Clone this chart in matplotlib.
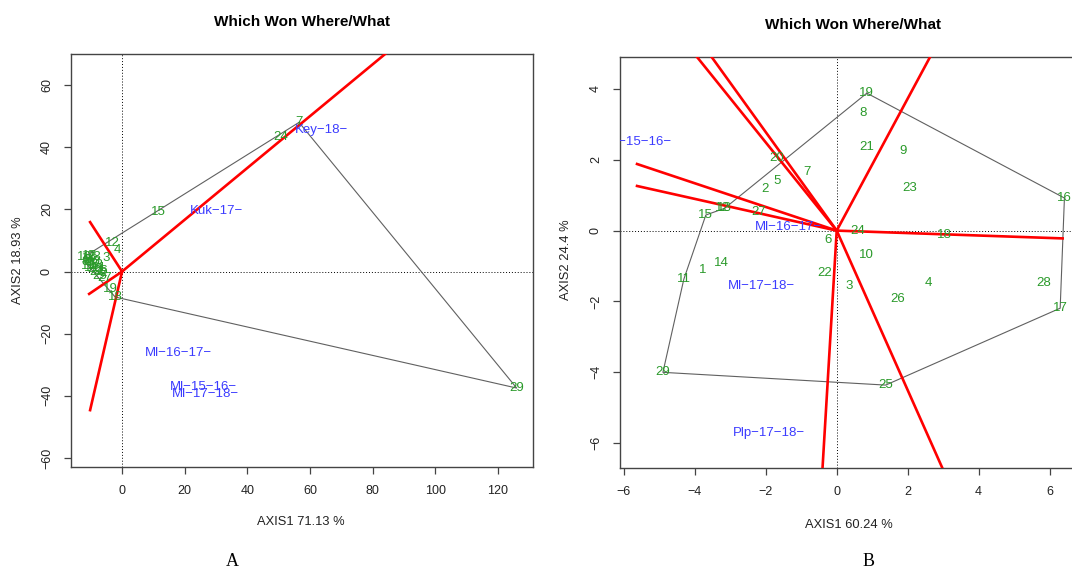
import matplotlib.pyplot as plt

plt.rcParams['font.family'] = ['Liberation Sans', 'DejaVu Sans']

# ---- panel A data ----
a_gen = ['1', '2', '3', '4', '5', '6', '7', '8', '9', '10', '11', '12', '13', '14', '15',
         '16', '17', '18', '19', '20', '21', '22', '23', '24', '25', '26', '27', '28', '29']
a_gx = [-11.5, -6.0, -5.1, -1.6, -10.8, -9.5, 56.5, -11.8, -10.2, -9.0, -11.0, -3.2, -8.3, -9.8, 11.5,
        -12.0, -10.5, -2.2, -3.8, -8.8, -7.6, -8.0, -9.2, 50.7, -7.0, -6.8, -5.4, -10.0, 126.0]
a_gy = [4.5, -0.5, 4.3, 6.9, 3.8, 4.2, 48.0, 3.0, 2.6, 3.2, 1.8, 9.2, 2.0, 1.2, 19.1,
        4.8, 5.0, -8.2, -5.6, 0.8, 1.0, -0.2, 4.8, 43.3, -1.5, 0.2, -2.1, 3.6, -37.5]
a_env = ['Key−18−', 'Kuk−17−', 'Ml−16−17−', 'Ml−15−16−', 'Ml−17−18−']
a_ex = [63.8, 30.3, 17.9, 25.9, 26.5]
a_ey = [45.5, 19.4, -26.2, -37.0, -39.4]
a_hull = ['7', '29', '18', '8', '16', '7']
a_line_x = [-10.2, -10.5, -10.2, 108.0]
a_line_y = [15.9, -7.2, -44.6, 90.0]

# ---- panel B data ----
b_gen = ['1', '2', '3', '4', '5', '6', '7', '8', '9', '10', '11', '12', '13', '14', '15',
         '16', '17', '18', '19', '20', '21', '22', '23', '24', '25', '26', '27', '28', '29']
b_gx = [-3.77, -2.03, 0.34, 2.59, -1.69, -0.23, -0.85, 0.73, 1.86, 0.85, -4.31, -3.22, -3.16, -3.24, -3.69,
        6.42, 6.30, 3.04, 0.85, -1.69, 0.85, -0.34, 2.06, 0.59, 1.38, 1.72, -2.20, 5.83, -4.90]
b_gy = [-1.11, 1.17, -1.56, -1.48, 1.40, -0.27, 1.65, 3.32, 2.25, -0.69, -1.37, 0.63, 0.63, -0.92, 0.44,
        0.92, -2.19, -0.12, 3.88, 2.05, 2.36, -1.20, 1.20, 0.00, -4.36, -1.93, 0.52, -1.48, -4.00]
b_env = ['Ml−15−16−', 'Ml−16−17−', 'Ml−17−18−', 'Plp−17−18−']
b_ex = [-5.6, -1.35, -2.11, -1.92]
b_ey = [2.5, 0.10, -1.56, -5.72]
b_hull = ['19', '16', '17', '25', '29', '11', '15', '13', '19']
b_line_x = [-4.3, -3.85, -5.63, -5.63, 2.9, 6.37, 3.2, -0.43]
b_line_y = [5.35, 5.35, 1.88, 1.26, 5.4, -0.22, -7.2, -7.2]

GREEN = '#2a9a2a'
BLUE = '#3c3cff'


def biplot(ax, gen, gx, gy, env, ex, ey, hull, lx, ly):
    pos = {g: (x, y) for g, x, y in zip(gen, gx, gy)}
    ax.plot([pos[g][0] for g in hull], [pos[g][1] for g in hull], color='#606060', lw=0.8, zorder=2)
    for x, y in zip(lx, ly):
        ax.plot([0, x], [0, y], color='red', lw=1.9, zorder=3)
    ax.axhline(0, color='black', lw=0.7, ls=(0, (1, 2)), zorder=1)
    ax.axvline(0, color='black', lw=0.7, ls=(0, (1, 2)), zorder=1)
    for g, x, y in zip(gen, gx, gy):
        ax.text(x, y, g, color=GREEN, fontsize=9.5, ha='center', va='center', zorder=4, clip_on=True)
    for e, x, y in zip(env, ex, ey):
        ax.text(x, y, e, color=BLUE, fontsize=9.5, ha='center', va='center', zorder=4, clip_on=True)
    for s in ax.spines.values():
        s.set_color('#444444')
        s.set_linewidth(1.0)
    ax.tick_params(length=5, width=0.9, color='#444444', labelsize=9, pad=8, labelcolor='#222222')
    for t in ax.get_yticklabels():
        t.set_rotation(90)
        t.set_va('center')


fig = plt.figure(figsize=(10.72, 5.73), dpi=100)

axA = fig.add_axes([71 / 1072, 1 - 467 / 573, 462 / 1072, 413 / 573])
axA.set_xlim(-16.3, 131.2)
axA.set_ylim(-62.9, 70)
axA.set_xticks(range(0, 121, 20))
axA.set_yticks(range(-60, 61, 20))
biplot(axA, a_gen, a_gx, a_gy, a_env, a_ex, a_ey, a_hull, a_line_x, a_line_y)

axB = fig.add_axes([620 / 1072, 1 - 468 / 573, 465 / 1072, 411 / 573])
axB.set_xlim(-6.11, 7.0)
axB.set_ylim(-6.7, 4.9)
axB.set_xticks(range(-6, 7, 2))
axB.set_yticks(range(-6, 5, 2))
biplot(axB, b_gen, b_gx, b_gy, b_env, b_ex, b_ey, b_hull, b_line_x, b_line_y)

H = 573
fig.text(302 / 1072, 1 - 22 / H, 'Which Won Where/What', ha='center', va='center', fontsize=11, fontweight='bold')
fig.text(853 / 1072, 1 - 25 / H, 'Which Won Where/What', ha='center', va='center', fontsize=11, fontweight='bold')
fig.text(301 / 1072, 1 - 522 / H, 'AXIS1 71.13 %', ha='center', va='center', fontsize=9.3, color='#222222')
fig.text(849 / 1072, 1 - 525 / H, 'AXIS1 60.24 %', ha='center', va='center', fontsize=9.3, color='#222222')
fig.text(18 / 1072, 1 - 260 / H, 'AXIS2 18.93 %', ha='center', va='center', rotation=90, fontsize=9.3, color='#222222')
fig.text(566 / 1072, 1 - 260 / H, 'AXIS2 24.4 %', ha='center', va='center', rotation=90, fontsize=9.3, color='#222222')
fig.text(232 / 1072, 1 - 562 / H, 'A', ha='center', va='center', fontsize=13, family='Liberation Serif')
fig.text(869 / 1072, 1 - 562 / H, 'B', ha='center', va='center', fontsize=13, family='Liberation Serif')

fig.savefig('out.png', dpi=100)
